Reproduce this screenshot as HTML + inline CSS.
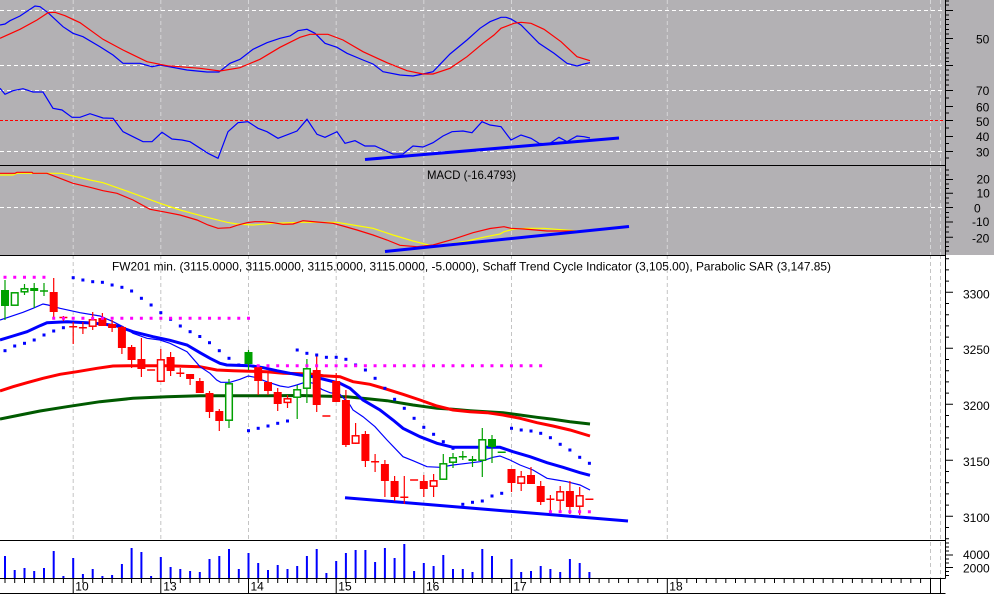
<!DOCTYPE html>
<html><head><meta charset="utf-8"><style>
html,body{margin:0;padding:0;background:#fff;width:994px;height:608px;overflow:hidden}
svg{display:block}
text{font-family:"Liberation Sans",Arial,sans-serif;font-size:12px;fill:#000}
</style></head><body>
<svg width="994" height="608" viewBox="0 0 994 608" xmlns="http://www.w3.org/2000/svg">
<!-- backgrounds -->
<rect x="0" y="0" width="994" height="255" fill="#b3b1b4"/>
<rect x="0" y="255" width="994" height="353" fill="#fff"/>

<!-- grid gray panels -->
<g stroke="#d6d6d8" stroke-width="1" stroke-dasharray="4 3" fill="none">
<path d="M73.2 0V255M160.8 0V255M248.5 0V255M336.2 0V255M423.8 0V255M511.5 0V255M667.3 0V255M930.5 0V255M940.5 0V255"/>
</g>
<g stroke="#fff" stroke-width="1" stroke-dasharray="4 3" fill="none">
<path d="M0 10.5H945M0 65.5H945M0 90.5H945M0 151.5H945M0 207.5H945"/>
</g>
<path d="M0 120.5H945" stroke="#f00" stroke-width="1" stroke-dasharray="3 2"/>
<!-- grid white panels -->
<g stroke="#c4c4c4" stroke-width="1" stroke-dasharray="4 3" fill="none">
<path d="M73.2 255V540M160.8 255V540M248.5 255V540M336.2 255V540M423.8 255V540M511.5 255V540M667.3 255V540M930.5 255V578M940.5 255V578"/>
</g>

<!-- TOP PANEL: stochastic style lines -->
<polyline fill="none" stroke="#0000ff" stroke-width="1.2" points="0,25 5,24 10,20.7 20,16 35,6 40,6.7 48,12.7 63,26.7 73,33.3 83,36.7 100,46.7 113,55 123,63.3 140,63.3 152,66.7 160,65 187,70 207,72 219,72 230,63.3 240,59.3 253,49.3 267,42.7 280,38.3 290,36 298,30.7 307,29.3 315,33.3 325,43.3 337,47.3 347,53.3 363,60 373,64 383,71.7 400,75 413,76 423,74 433,71.7 450,54 467,40 480,28.3 490,21.7 501,17.3 506,17.3 511,19 521,25 539,43.3 554,53.3 567,63.3 577,66 584,64 590,62.7"/>
<polyline fill="none" stroke="#ff0000" stroke-width="1.2" points="0,38.3 20,29.3 37,20 48,12.7 55,12.3 65,15.7 80,22.7 103,39.3 123,50 147,61.7 167,65.7 200,68.3 220,71 240,67.7 260,59.3 280,47.3 300,37.3 310,34.3 328,34.3 343,40 363,51.7 387,62.7 407,70.7 423,74 433,74 450,68.3 467,56.7 483,43.3 494,35 501,28.3 514,23.3 521,22.3 531,23.3 544,29.3 561,41.7 577,56.7 590,60.7"/>
<!-- RSI-like line -->
<polyline fill="none" stroke="#0000ff" stroke-width="1.2" points="0,88.3 5,94.3 13,90.7 23,88.7 33,92 43,92 53,108.3 62,110 72,117.3 80,117.3 90,113.7 103,118 113,118.3 123,131.7 133,136.7 143,141.7 152,141.7 162,132.3 172,139 182,140 190,141.7 208,153.3 218,158.3 228,131.7 238,122.7 248,121.7 258,128.3 267,131.7 278,138.3 297,131 307,119.3 317,134.3 325,137.3 337,131.7 345,143.3 355,140.7 365,146 375,146 393,154 403,154 413,146 423,147 433,142.7 443,136 452,131.7 463,131 472,132.7 482,121.7 490,125 501,126.7 511,140 521,135 531,138.3 539,143.3 549,144 559,137.3 567,141.7 577,136 584,136.7 590,138"/>
<line x1="365" y1="159.5" x2="619" y2="138" stroke="#0000ff" stroke-width="3"/>

<!-- MACD panel -->
<polyline fill="none" stroke="#ffff00" stroke-width="1.2" points="0,175 13,175 17,173.3 62,173.3 73,176 90,180 103,182.7 133,193.3 160,203.3 180,210 207,217.3 227,222.3 237,224 253,225 273,223.3 300,222.3 337,222.3 353,225 373,228.3 393,235 413,241 430,245.3 443,245 467,241 483,237.3 500,234 504,231.7 514,229 527,228.3 544,228.3 556,229.3 576,230.7"/>
<polyline fill="none" stroke="#ff0000" stroke-width="1.2" points="0,173.3 15,173.3 17,172.3 32,172.3 33,173.3 47,173.3 60,178.3 73,183.3 90,187.3 103,190.7 117,193.3 133,200 150,209.3 163,211.7 180,215 197,220 208,225 218,228.3 230,227.7 237,225.3 247,222.7 255,221.7 263,221.7 273,222.7 283,224.3 293,224 303,220.7 317,222 333,223.3 343,226 357,230 373,235 387,240 400,245.3 417,246.7 433,245 453,239.3 473,232.7 490,228.5 504,226.7 511,228.3 524,229 547,231 576,231"/>
<line x1="385" y1="251.5" x2="629" y2="226.5" stroke="#0000ff" stroke-width="3"/>
<text x="427" y="179" textLength="89" lengthAdjust="spacingAndGlyphs">MACD (-16.4793)</text>

<!-- moving averages (under candles) -->
<polyline fill="none" stroke="#005a00" stroke-width="3" points="0,419 20,415 40,411 67,406.7 100,401.7 133,398.3 167,396.7 200,395.7 267,395.7 300,395.5 347,396.7 370,399 387,400.7 413,405 437,408.3 453,409.3 470,410.7 503,412.7 520,415 537,417.3 553,419.3 570,421.7 590,424"/>
<polyline fill="none" stroke="#ff0000" stroke-width="3" points="0,391 13,386.7 27,382.7 43,378.3 60,374.3 77,371.7 97,368.3 113,366 133,365.7 167,365.7 200,366.7 216.7,370 233.3,370.7 266.7,371.7 283.3,373.3 310,374 323.3,375.7 340,376.7 353,381.7 370,384.3 387,389.3 403,394.3 420,400 437,406 453,410 470,411.7 487,412.7 503,415 520,418.3 537,422.7 553,426 570,430 590,436"/>
<polyline fill="none" stroke="#0000ff" stroke-width="3" points="0,340 13,336 27,331.7 40,325.7 47,322.7 67,321.7 87,322.7 103,324 117,326 133,331.7 153,336.7 170,340.3 187,345 200,352.7 210,358.3 220,363.3 226.7,365 250,365.7 263.3,367.7 276.7,370.7 290,373.3 300,375 313.3,376.7 326.7,380 340,383.3 350,388.3 363,400 380,410 393,420 403,428.3 420,436.7 437,443.3 453,447.3 470,447.3 500,447.3 513,451.7 530,456.7 547,462.7 563,467.3 580,472.7 590,475.3"/>
<polyline fill="none" stroke="#0000ff" stroke-width="1.2" points="0,320 10,316.7 23,312.3 33,308.3 43,304 48,305 60,308.3 80,312.7 100,316 113,321.7 123,326.7 133,333.3 147,338.3 160,340 170,343.3 187,351.7 200,366.7 210,373.3 216.7,380 220.7,382.3 230,382.3 240,379.3 248.3,376 255,377.3 266.7,381.7 280,386 288.3,387.3 296.7,385 306.7,381.7 313.3,383.3 321.7,389.3 330,392.7 340,394.3 350,405 353,410 363,416.7 375,426.7 387,440 403,456.7 413,460.7 427,466.7 440,467.3 453,465 467,463.3 480,461.7 493,457.3 500,456 510,460 520,465 533,470 547,478.3 557,480 567,481.7 580,485 590,490"/>
<line x1="345" y1="497.7" x2="628" y2="521" stroke="#0000ff" stroke-width="3"/>

<!-- MAIN: candles -->
<path fill="none" stroke="#f00" stroke-width="1.2" d="M53.7 278V317M63.4 316V321M73.2 322V344M82.9 322V334M92.7 312V330M102.4 313V326M112.1 320V332M121.9 326V354M131.6 345V368M141.4 338V377M160.8 349V382M170.6 352V376M180.3 368V377M190.1 374V385M199.8 378V393M209.5 391V418M219.3 409V431M258.2 365V395M268 373V395M277.7 388V411M287.5 395V408M316.7 356V412M336.2 373V402M345.9 390V447M355.6 423V444M365.4 431V467M375.1 454V472M384.9 460V497M394.6 476V501M404.3 476V504M423.8 475V497M433.6 474V497M511.5 469V492M521.2 471V491M531 467V484M540.7 481V505M550.4 495V511M560.2 486V513M569.9 481V514M579.7 487V515"/>
<path fill="none" stroke="#f00" stroke-width="1.5" d="M59.4 317.5H67.4M69.2 326.7H77.2M78.9 327.7H86.9M147.1 370H155.1M176.3 373.3H184.3M322.4 416H330.4M371.1 461.7H379.1M400.3 497.3H408.3M410.1 480H418.1M546.4 499.3H554.4M585.4 499.3H593.4"/>
<g fill="#f00">
<rect x="49.7" y="292" width="8" height="20"/><rect x="98.4" y="318" width="8" height="8"/><rect x="108.1" y="324" width="8" height="4"/><rect x="117.9" y="327" width="8" height="21"/><rect x="127.6" y="347" width="8" height="13"/><rect x="137.4" y="359" width="8" height="10"/><rect x="166.6" y="357" width="8" height="14"/><rect x="186.1" y="374" width="8" height="5"/><rect x="195.8" y="381" width="8" height="12"/><rect x="205.5" y="393" width="8" height="19"/><rect x="215.3" y="411" width="8" height="10"/><rect x="254.2" y="367" width="8" height="14"/><rect x="264" y="382" width="8" height="9"/><rect x="273.7" y="392" width="8" height="12"/><rect x="312.7" y="370" width="8" height="35"/><rect x="332.2" y="381" width="8" height="21"/><rect x="341.9" y="400" width="8" height="45"/><rect x="361.4" y="434" width="8" height="27"/><rect x="380.9" y="464" width="8" height="17"/><rect x="390.6" y="481" width="8" height="16"/><rect x="419.8" y="481" width="8" height="8"/><rect x="507.5" y="469" width="8" height="14"/><rect x="527" y="475" width="8" height="9"/><rect x="536.7" y="486" width="8" height="16"/><rect x="565.9" y="491" width="8" height="16"/>
</g>
<g fill="#fff" stroke="#f00" stroke-width="1.5">
<rect x="89.4" y="319.8" width="6.6" height="6.4"/><rect x="157.5" y="359.8" width="6.6" height="21.4"/><rect x="284.2" y="398.8" width="6.6" height="3.6"/><rect x="352.3" y="435.8" width="6.6" height="7.4"/><rect x="430.3" y="480.8" width="6.6" height="5.4"/><rect x="517.9" y="476.8" width="6.6" height="6.4"/><rect x="556.9" y="491.8" width="6.6" height="8.4"/><rect x="576.4" y="495.8" width="6.6" height="10.4"/>
</g>
<path fill="none" stroke="#00a000" stroke-width="1.2" d="M5 280V320M24.5 284V295M34.2 283V308M44 283V296M229 379V428M248.5 350V370M297.2 385V419M306.9 359V403M443.3 454V480M453 453V468M462.8 451V460M472.5 456V467M482.3 428V477M492 435V463"/>
<path fill="none" stroke="#00a000" stroke-width="1.5" d="M40 291H48M458.8 456.7H466.8M497.7 452.3H505.7"/>
<g fill="#00a000">
<rect x="1" y="290" width="8" height="16"/><rect x="30.2" y="288" width="8" height="3"/><rect x="244.5" y="352" width="8" height="12"/><rect x="468.5" y="459" width="8" height="2"/><rect x="488" y="439" width="8" height="8"/>
</g>
<g fill="#fff" stroke="#00a000" stroke-width="1.5">
<rect x="11.4" y="292.8" width="6.6" height="12.4"/><rect x="21.2" y="288.8" width="6.6" height="3"/><rect x="225.7" y="383.8" width="6.6" height="36.4"/><rect x="293.9" y="389.8" width="6.6" height="7.4"/><rect x="303.6" y="368.8" width="6.6" height="19.4"/><rect x="440" y="463.8" width="6.6" height="15.4"/><rect x="449.7" y="457.8" width="6.6" height="4.4"/><rect x="479" y="439.8" width="6.6" height="20.4"/>
</g>

<!-- SAR dots -->
<g fill="#0000ff">
<rect x="3.5" y="349.2" width="3" height="3"/><rect x="13.2" y="344.5" width="3" height="3"/><rect x="23" y="341.8" width="3" height="3"/><rect x="32.7" y="338.5" width="3" height="3"/><rect x="42.5" y="333.5" width="3" height="3"/><rect x="52.2" y="329.5" width="3" height="3"/><rect x="61.9" y="326.2" width="3" height="3"/>
<rect x="71.7" y="276.2" width="3" height="3"/><rect x="81.4" y="278.5" width="3" height="3"/><rect x="91.2" y="280.2" width="3" height="3"/><rect x="100.9" y="280.8" width="3" height="3"/><rect x="110.6" y="283.5" width="3" height="3"/><rect x="120.4" y="285.8" width="3" height="3"/><rect x="130.1" y="289.5" width="3" height="3"/><rect x="139.9" y="296.8" width="3" height="3"/><rect x="149.6" y="303.5" width="3" height="3"/><rect x="159.3" y="311.2" width="3" height="3"/><rect x="169.1" y="317.8" width="3" height="3"/><rect x="178.8" y="324.5" width="3" height="3"/><rect x="188.6" y="330.2" width="3" height="3"/><rect x="198.3" y="335" width="3" height="3"/><rect x="208" y="341.2" width="3" height="3"/><rect x="217.8" y="349.2" width="3" height="3"/><rect x="227.5" y="356.8" width="3" height="3"/><rect x="237.3" y="363.5" width="3" height="3"/>
<rect x="247" y="429.2" width="3" height="3"/><rect x="256.7" y="426.8" width="3" height="3"/><rect x="266.5" y="424.5" width="3" height="3"/><rect x="276.2" y="421.8" width="3" height="3"/><rect x="286" y="419.5" width="3" height="3"/>
<rect x="295.7" y="348.5" width="3" height="3"/><rect x="305.4" y="351.8" width="3" height="3"/><rect x="315.2" y="353.5" width="3" height="3"/><rect x="324.9" y="355.8" width="3" height="3"/><rect x="334.7" y="355.8" width="3" height="3"/><rect x="344.4" y="357.8" width="3" height="3"/><rect x="354.1" y="363.5" width="3" height="3"/><rect x="363.9" y="368.5" width="3" height="3"/><rect x="373.6" y="376.8" width="3" height="3"/><rect x="383.4" y="386.8" width="3" height="3"/><rect x="393.1" y="397.8" width="3" height="3"/><rect x="402.8" y="406.8" width="3" height="3"/><rect x="412.6" y="416.8" width="3" height="3"/><rect x="422.3" y="425.8" width="3" height="3"/><rect x="432.1" y="432.8" width="3" height="3"/><rect x="441.8" y="440.2" width="3" height="3"/><rect x="451.5" y="446.8" width="3" height="3"/>
<rect x="461.3" y="502.8" width="3" height="3"/><rect x="471" y="500.8" width="3" height="3"/><rect x="480.8" y="499.5" width="3" height="3"/><rect x="490.5" y="494.5" width="3" height="3"/><rect x="500.2" y="491.8" width="3" height="3"/>
<rect x="510" y="426.8" width="3" height="3"/><rect x="519.7" y="428.5" width="3" height="3"/><rect x="529.5" y="429.5" width="3" height="3"/><rect x="539.2" y="431.8" width="3" height="3"/><rect x="548.9" y="436.2" width="3" height="3"/><rect x="558.7" y="442.8" width="3" height="3"/><rect x="568.4" y="448.5" width="3" height="3"/><rect x="578.2" y="455.8" width="3" height="3"/><rect x="587.9" y="461.8" width="3" height="3"/>
</g>
<!-- magenta dotted levels -->
<g stroke="#ff00ff" stroke-width="3" stroke-dasharray="3 6.74" fill="none">
<path d="M3.5 277.3H46"/>
<path d="M52.2 318.3H251"/>
<path d="M256.7 365.7H543"/>
<path d="M548.9 511.7H592"/>
</g>

<!-- title -->
<text x="112" y="270.5" textLength="719" lengthAdjust="spacingAndGlyphs">FW201 min. (3115.0000, 3115.0000, 3115.0000, 3115.0000, -5.0000), Schaff Trend Cycle Indicator (3,105.00), Parabolic SAR (3,147.85)</text>

<!-- volume -->
<path fill="none" stroke="#0000ff" stroke-width="2" d="M5 556V578M14.7 570V578M24.5 568V578M34.2 571V578M44 568V578M53.7 551V578M63.4 576V578M73.2 558V578M82.9 574V578M92.7 569V578M102.4 576V578M112.1 575V578M121.9 564V578M131.6 548V578M141.4 552V578M151.1 576V578M160.8 557V578M170.6 567V578M180.3 569V578M190.1 571V578M199.8 572V578M209.5 559V578M219.3 556V578M229 549V578M238.8 569V578M248.5 553V578M258.2 563V578M268 570V578M277.7 565V578M287.5 569V578M297.2 566V578M306.9 556V578M316.7 549V578M326.4 573V578M336.2 561V578M345.9 553V578M355.6 550V578M365.4 550V578M375.1 562V578M384.9 548V578M394.6 558V578M404.3 544V578M414.1 571V578M423.8 563V578M433.6 566V578M443.3 555V578M453 569V578M462.8 569V578M472.5 572V578M482.3 549V578M492 556V578M511.5 559V578M521.2 572V578M531 571V578M540.7 566V578M550.4 569V578M560.2 572V578M569.9 559V578M579.7 563V578M589.4 572V578"/>

<!-- frame lines -->
<g stroke="#000" stroke-width="1" fill="none">
<path d="M0 165.5H945.5M0 255.5H945.5M0 540.5H945.5M0 578.5H945.5M0 593.5H945.5M945.5 0V578.5"/>
<!-- x axis ticks -->
<path d="M5 578v5M14.7 578v5M24.5 578v5M34.2 578v5M44 578v5M53.7 578v5M63.4 578v5M82.9 578v5M92.7 578v5M102.4 578v5M112.1 578v5M121.9 578v5M131.6 578v5M141.4 578v5M151.1 578v5M170.6 578v5M180.3 578v5M190.1 578v5M199.8 578v5M209.5 578v5M219.3 578v5M229 578v5M238.8 578v5M258.2 578v5M268 578v5M277.7 578v5M287.5 578v5M297.2 578v5M306.9 578v5M316.7 578v5M326.4 578v5M345.9 578v5M355.6 578v5M365.4 578v5M375.1 578v5M384.9 578v5M394.6 578v5M404.3 578v5M414.1 578v5M433.6 578v5M443.3 578v5M453 578v5M462.8 578v5M472.5 578v5M482.3 578v5M492 578v5M501.7 578v5M521.2 578v5M531 578v5M540.7 578v5M550.4 578v5M560.2 578v5M569.9 578v5M579.7 578v5M589.4 578v5M599.1 578v5M608.9 578v5M618.6 578v5M628.4 578v5M638.1 578v5M647.8 578v5M657.6 578v5M677.1 578v5M686.8 578v5M696.5 578v5M706.3 578v5M716 578v5M725.8 578v5M735.5 578v5M745.2 578v5M755 578v5M764.7 578v5M774.5 578v5M784.2 578v5M793.9 578v5M803.7 578v5M813.4 578v5M823.2 578v5M832.9 578v5M842.6 578v5M852.4 578v5M862.1 578v5M871.9 578v5M881.6 578v5M891.3 578v5M901.1 578v5M910.8 578v5M920.6 578v5"/>
<path d="M73.2 578v16M160.8 578v16M248.5 578v16M336.2 578v16M423.8 578v16M511.5 578v16M667.3 578v16M930.5 578v16M940.5 578v16"/>
<!-- right axis ticks -->
<path d="M946 1h3M946 5h3M946 15h3M946 19.5h3M946 24.5h3M946 29.5h3M946 34h3M946 43.5h3M946 48.5h3M946 53h3M946 58h3M946 61.5h3M946 70h3M946 75h3M946 80h3M946 85h3M946 98h3M946 113h3M946 128h3M946 143.5h3M946 158h3
M946 10.5h7M946 38.5h7M946 65.5h7M946 90.5h7M946 106.5h7M946 120.5h7M946 136.5h7M946 151.5h7
M946 170h3M946 175h3M946 184h3M946 188.5h3M946 198h3M946 203h3M946 212.5h3M946 217.3h3M946 227h3M946 232h3M946 242h3M946 246.5h3M946 251h3
M946 179.5h7M946 193.3h7M946 207.5h7M946 222h7M946 237.3h7
M946 258.7h3M946 269.9h3M946 281.1h3M946 303.5h3M946 314.7h3M946 325.9h3M946 337.1h3M946 359.5h3M946 370.7h3M946 381.9h3M946 393.1h3M946 415.5h3M946 426.7h3M946 437.9h3M946 449.1h3M946 471.5h3M946 482.7h3M946 493.9h3M946 505.1h3M946 527.5h3M946 538.7h3
M946 292.3h7M946 348.3h7M946 404.3h7M946 460.3h7M946 516.3h7
M946 543h3M946 547h3M946 551h3M946 559h3M946 563h3M946 571.5h3M946 575.5h3M946 555h7M946 567.5h7"/>
</g>

<!-- axis labels -->
<text x="976" y="43.5">50</text>
<text x="976" y="95">70</text>
<text x="976" y="111.5">60</text>
<text x="976" y="126">50</text>
<text x="976" y="141">40</text>
<text x="976" y="156.5">30</text>
<text x="976.5" y="183.5">20</text>
<text x="976.5" y="197.7">10</text>
<text x="974" y="212.3">0</text>
<text x="972" y="226">-10</text>
<text x="972" y="242.3">-20</text>
<text x="963" y="298.3">3300</text>
<text x="963" y="354">3250</text>
<text x="963" y="410">3200</text>
<text x="963" y="466">3150</text>
<text x="963" y="522">3100</text>
<text x="963" y="559">4000</text>
<text x="963" y="572.3">2000</text>
<text x="75.3" y="590.5">10</text>
<text x="163.3" y="590.5">13</text>
<text x="250.5" y="590.5">14</text>
<text x="338.3" y="590.5">15</text>
<text x="426" y="590.5">16</text>
<text x="513.3" y="590.5">17</text>
<text x="669.3" y="590.5">18</text>
</svg>
</body></html>
